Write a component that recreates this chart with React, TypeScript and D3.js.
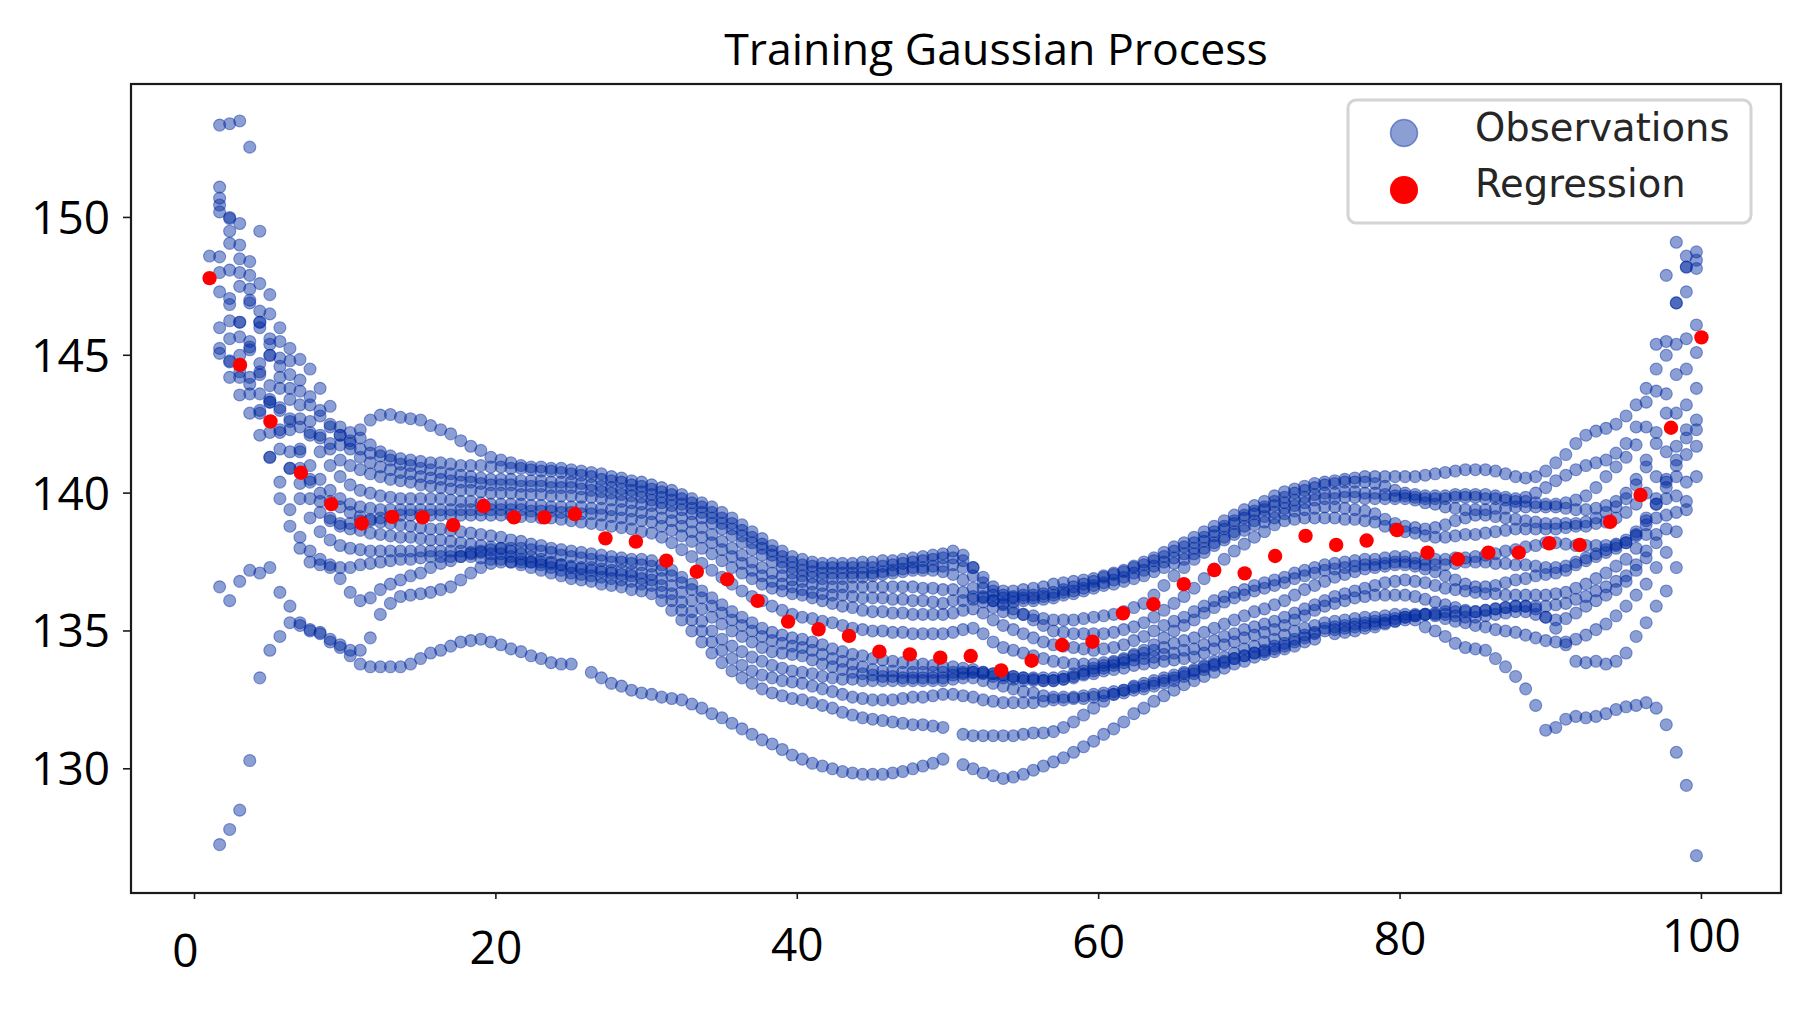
import React from 'react';
import * as d3 from 'd3';

// observation tracks share one x grid: starts at 1, step 2/3
const obsStart = 1;
const obsStep = 2 / 3;

const track01 = [
  null, 145.25, 144.8, 144.4, 143.95, 143.6, 143.3, 143.0, 142.7, 142.4, 142.2, 142.0, 141.8, 141.75, 141.9,
  142.3, 142.65, 142.83, 142.85, 142.75, 142.7, 142.65, 142.45, 142.3, 142.15, 141.9, 141.7, 141.55, 141.3, 141.2,
  141.1, 141.0, 140.95, 140.95, 140.9, 140.9, 140.85, 140.8, 140.75, 140.7, 140.6, 140.55, 140.45, 140.4, 140.3,
  140.2, 140.1, 139.95, 139.8, 139.65, 139.5, 139.3, 139.1, 138.85, 138.6, 138.35, 138.1, 137.9, 137.7, 137.6,
  137.5, 137.45, 137.45, 137.45, 137.45, 137.5, 137.5, 137.55, 137.55, 137.6, 137.65, 137.7, 137.75, 137.8, 137.9,
  137.75, 137.3, 136.95, 136.6, 136.45, 136.45, 136.5, 136.55, 136.6, 136.7, 136.75, 136.8, 136.85, 136.9, 137.0,
  137.1, 137.2, 137.35, 137.5, 137.65, 137.85, 138.05, 138.2, 138.4, 138.6, 138.8, 139.0, 139.2, 139.4, 139.55,
  139.7, 139.9, 140.05, 140.15, 140.25, 140.35, 140.4, 140.45, 140.5, 140.55, 140.6, 140.6, 140.6, 140.6, 140.6,
  140.6, 140.65, 140.7, 140.75, 140.8, 140.85, 140.85, 140.85, 140.8, 140.7, 140.6, 140.55, 140.6, 140.8, 141.1,
  141.4, 141.8, 142.1, 142.25, 142.35, 142.5, 142.8, 143.2, 143.8, 144.5, 145.5, 146.9, 148.2, null,
];
const track02 = [
  null, 153.35, 153.4, 153.5, 152.55, 149.5, 147.2, 146.0, 145.25, 144.85, 144.5, 143.8, 143.15, 142.4, 142.2,
  142.0, 141.75, 141.5, 141.35, 141.25, 141.2, 141.15, 141.1, 141.1, 141.05, 141.0, 141.0, 141.0, 140.95, 140.95,
  140.9, 140.9, 140.85, 140.8, 140.8, 140.75, 140.7, 140.65, 140.6, 140.5, 140.45, 140.4, 140.3, 140.25, 140.15,
  140.05, 139.95, 139.8, 139.65, 139.5, 139.3, 139.1, 138.9, 138.65, 138.4, 138.15, 137.9, 137.7, 137.5, 137.4,
  137.35, 137.3, 137.3, 137.3, 137.3, 137.3, 137.3, 137.35, 137.4, 137.45, 137.5, 137.55, 137.6, 137.65, 137.65,
  137.55, 137.3, 136.75, 136.45, 136.3, 136.25, 136.3, 136.3, 136.35, 136.4, 136.5, 136.6, 136.7, 136.8, 136.95,
  137.05, 137.15, 137.3, 137.4, 137.55, 137.7, 137.9, 138.05, 138.2, 138.4, 138.6, 138.8, 139.0, 139.2, 139.35,
  139.5, 139.7, 139.85, 140.0, 140.1, 140.2, 140.3, 140.35, 140.4, 140.4, 140.4, 140.35, 140.25, 140.1, 140.0,
  139.95, 139.9, 139.9, 139.9, 139.95, 139.95, 139.95, 139.95, 139.9, 139.85, 139.8, 139.85, 140.0, 140.2, 140.45,
  140.65, 140.85, 141.0, 141.1, 141.2, 141.45, 141.8, 142.4, 143.3, 145.4, 147.9, 149.1, 148.6, 148.45,
];
const track03 = [
  null, 151.1, 150.0, 149.0, 147.9, 146.6, 145.6, 144.9, 144.3, 143.7, 143.2, 142.8, 142.4, 142.1, 141.8,
  141.6, 141.45, 141.35, 141.2, 141.05, 141.0, 140.9, 140.85, 140.75, 140.7, 140.65, 140.6, 140.55, 140.5, 140.5,
  140.5, 140.45, 140.45, 140.45, 140.4, 140.4, 140.4, 140.35, 140.3, 140.25, 140.2, 140.15, 140.1, 140.05, 139.95,
  139.85, 139.75, 139.6, 139.45, 139.3, 139.1, 138.9, 138.7, 138.45, 138.2, 138.0, 137.75, 137.5, 137.3, 137.2,
  137.15, 137.1, 137.1, 137.1, 137.1, 137.1, 137.1, 137.15, 137.2, 137.25, 137.3, 137.3, 137.35, 137.35, 137.4,
  137.3, 137.0, 136.55, 136.3, 136.2, 136.2, 136.2, 136.2, 136.25, 136.3, 136.4, 136.45, 136.55, 136.65, 136.75,
  136.85, 136.95, 137.1, 137.2, 137.35, 137.5, 137.65, 137.8, 138.0, 138.25, 138.45, 138.7, 138.9, 139.1, 139.25,
  139.4, 139.55, 139.65, 139.75, 139.85, 139.95, 140.0, 140.0, 140.05, 140.05, 140.0, 140.0, 139.95, 139.9, 139.9,
  139.85, 139.8, 139.8, 139.8, 139.85, 139.85, 139.85, 139.8, 139.8, 139.75, 139.7, 139.7, 139.65, 139.6, 139.6,
  139.65, 139.75, 139.9, 140.2, 140.6, 140.95, 141.3, 141.75, 142.4, 143.7, 145.0, 146.9, 148.2, 148.75,
];
const track04 = [
  null, 150.45, 149.96, 149.78, 148.4, 147.6, 146.5, 145.5, 144.8, 144.1, 143.5, 143.0, 142.5, 142.1, 141.6,
  141.3, 141.1, 140.95, 140.85, 140.75, 140.7, 140.6, 140.55, 140.5, 140.45, 140.4, 140.4, 140.35, 140.3, 140.3,
  140.3, 140.25, 140.25, 140.25, 140.2, 140.2, 140.2, 140.15, 140.1, 140.05, 140.0, 139.95, 139.9, 139.85, 139.75,
  139.65, 139.55, 139.4, 139.25, 139.1, 138.9, 138.7, 138.45, 138.2, 137.95, 137.75, 137.5, 137.3, 137.1, 137.0,
  136.95, 136.9, 136.9, 136.9, 136.95, 136.95, 137.0, 137.05, 137.1, 137.15, 137.2, 137.2, 137.2, 137.15, 137.05,
  136.85, 136.55, 136.25, 136.1, 136.0, 136.05, 136.1, 136.1, 136.15, 136.2, 136.3, 136.35, 136.45, 136.55, 136.65,
  136.7, 136.8, 136.9, 137.0, 137.15, 137.3, 137.45, 137.6, 137.8, 138.0, 138.2, 138.4, 138.6, 138.8, 139.0,
  139.15, 139.3, 139.45, 139.55, 139.65, 139.75, 139.8, 139.8, 139.85, 139.85, 139.8, 139.8, 139.8, 139.8, 139.8,
  139.75, 139.65, 139.6, 139.5, 139.45, 139.4, 139.4, 139.4, 139.45, 139.45, 139.5, 139.5, 139.5, 139.5, 139.5,
  139.45, 139.4, 139.4, 139.45, 139.55, 139.7, 140.0, 140.5, 141.2, 142.2, 143.6, 145.4, 147.3, 148.15,
];
const track05 = [
  148.6, 148.57, 148.09, 147.5, 146.9, 146.2, 145.4, 144.6, 143.8, 143.2, 142.6, 142.1, 141.6, 141.2, 141.0,
  140.85, 140.7, 140.6, 140.5, 140.45, 140.4, 140.3, 140.25, 140.2, 140.15, 140.1, 140.1, 140.05, 140.0, 140.0,
  140.0, 139.95, 139.95, 139.95, 139.9, 139.9, 139.9, 139.85, 139.85, 139.8, 139.75, 139.7, 139.65, 139.6, 139.55,
  139.45, 139.3, 139.1, 138.95, 138.75, 138.5, 138.25, 138.0, 137.75, 137.5, 137.3, 137.1, 137.0, 136.85, 136.8,
  136.7, 136.65, 136.6, 136.6, 136.6, 136.6, 136.6, 136.6, 136.6, 136.6, 136.6, 136.55, 136.55, 136.5, 136.5,
  136.4, 136.25, 136.05, 135.85, 135.7, 135.65, 135.6, 135.55, 135.45, 135.4, 135.4, 135.4, 135.45, 135.5, 135.55,
  135.6, 135.7, 135.85, 136.0, 136.3, 136.65, 137.0, 137.3, 137.6, 137.85, 138.1, 138.3, 138.5, 138.65, 138.85,
  138.95, 139.1, 139.25, 139.35, 139.4, 139.45, 139.5, 139.5, 139.45, 139.4, 139.35, 139.25, 139.05, 138.9, 138.8,
  138.75, 138.7, 138.75, 138.85, 139.0, 139.1, 139.2, 139.2, 139.15, 139.1, 139.05, 139.0, 138.95, 138.9, 138.9,
  138.9, 138.9, 138.95, 139.1, 139.3, 139.5, 139.8, 140.3, 140.95, 141.8, 142.9, 144.3, 145.6, 146.1,
];
const track06 = [
  null, 150.7, 149.06, 148.0, 147.0, 146.0, 145.0, 144.2, 143.4, 142.7, 142.1, 141.5, 141.0, 140.6, 140.3,
  140.1, 140.0, 139.9, 139.85, 139.8, 139.8, 139.8, 139.8, 139.8, 139.75, 139.7, 139.7, 139.65, 139.6, 139.6,
  139.6, 139.6, 139.55, 139.55, 139.5, 139.5, 139.5, 139.5, 139.45, 139.45, 139.4, 139.4, 139.35, 139.3, 139.25,
  139.1, 139.0, 138.8, 138.6, 138.4, 138.2, 137.95, 137.7, 137.45, 137.2, 137.0, 136.8, 136.7, 136.6, 136.5,
  136.4, 136.35, 136.3, 136.3, 136.25, 136.2, 136.2, 136.2, 136.15, 136.15, 136.1, 136.1, 136.05, 136.0, 136.1,
  136.1, 136.15, 136.2, 136.1, 135.95, 135.8, 135.6, 135.4, 135.2, 135.0, 134.95, 134.9, 134.9, 134.9, 134.9,
  134.95, 135.05, 135.15, 135.3, 135.5, 135.75, 136.0, 136.25, 136.55, 136.9, 137.25, 137.6, 137.9, 138.15, 138.4,
  138.6, 138.85, 139.0, 139.05, 139.1, 139.1, 139.1, 139.1, 139.05, 139.05, 139.0, 138.95, 138.8, 138.7, 138.6,
  138.55, 138.45, 138.4, 138.4, 138.45, 138.5, 138.5, 138.55, 138.6, 138.65, 138.7, 138.7, 138.7, 138.7, 138.7,
  138.75, 138.8, 138.8, 138.9, 138.95, 139.1, 139.3, 139.6, 140.0, 140.6, 141.5, 142.9, 144.5, 145.1,
];
const track07 = [
  null, 147.3, 146.84, 146.2, 145.5, 144.7, 143.9, 143.1, 142.3, 141.6, 141.0, 140.5, 140.1, 139.8, 139.6,
  139.5, 139.45, 139.4, 139.4, 139.4, 139.4, 139.4, 139.4, 139.4, 139.4, 139.4, 139.4, 139.4, 139.4, 139.4,
  139.4, 139.4, 139.35, 139.35, 139.35, 139.3, 139.3, 139.25, 139.25, 139.2, 139.15, 139.1, 139.05, 139.0, 138.95,
  138.8, 138.65, 138.45, 138.25, 138.0, 137.8, 137.55, 137.3, 137.1, 136.9, 136.7, 136.55, 136.45, 136.35, 136.3,
  136.2, 136.1, 136.0, 135.9, 135.85, 135.75, 135.7, 135.7, 135.65, 135.65, 135.6, 135.6, 135.6, 135.6, 135.65,
  135.75, 135.8, 135.65, 135.4, 135.2, 135.05, 134.9, 134.75, 134.6, 134.5, 134.45, 134.4, 134.35, 134.3, 134.35,
  134.4, 134.5, 134.65, 134.8, 135.0, 135.2, 135.35, 135.5, 135.7, 135.9, 136.1, 136.25, 136.4, 136.5, 136.65,
  136.75, 136.85, 136.95, 137.1, 137.2, 137.3, 137.4, 137.45, 137.5, 137.55, 137.6, 137.6, 137.65, 137.7, 137.7,
  137.65, 137.6, 137.6, 137.6, 137.65, 137.65, 137.7, 137.75, 137.8, 137.9, 137.95, 138.05, 138.1, 138.2, 138.2,
  138.15, 138.1, 138.1, 138.1, 138.1, 138.15, 138.2, 138.45, 138.85, 139.6, 140.5, 141.7, 143.2, 143.8,
];
const track08 = [
  null, 145.07, 144.76, 144.2, 143.6, 142.9, 142.2, 141.6, 140.9, 140.35, 139.8, 139.3, 139.0, 138.9, 138.9,
  139.0, 139.05, 139.1, 139.15, 139.2, 139.2, 139.2, 139.2, 139.2, 139.2, 139.2, 139.2, 139.2, 139.2, 139.2,
  139.2, 139.15, 139.15, 139.1, 139.1, 139.05, 139.0, 138.95, 138.9, 138.85, 138.8, 138.75, 138.7, 138.6, 138.55,
  138.4, 138.2, 137.95, 137.7, 137.45, 137.2, 136.95, 136.7, 136.45, 136.25, 136.1, 135.9, 135.75, 135.6, 135.5,
  135.45, 135.35, 135.3, 135.2, 135.1, 135.05, 135.0, 135.0, 134.95, 134.95, 134.9, 134.9, 134.9, 134.9, 134.95,
  135.05, 135.1, 134.9, 134.6, 134.4, 134.3, 134.2, 134.1, 134.0, 133.9, 133.85, 133.8, 133.8, 133.8, 133.85,
  133.9, 134.0, 134.15, 134.3, 134.5, 134.75, 135.0, 135.2, 135.4, 135.65, 135.85, 136.05, 136.2, 136.3, 136.45,
  136.55, 136.65, 136.75, 136.9, 137.0, 137.1, 137.2, 137.25, 137.3, 137.35, 137.4, 137.4, 137.45, 137.5, 137.5,
  137.45, 137.4, 137.4, 137.4, 137.45, 137.5, 137.5, 137.5, 137.45, 137.45, 137.4, 137.4, 137.35, 137.3, 137.3,
  137.35, 137.5, 137.65, 137.8, 137.95, 138.1, 138.3, 138.6, 139.1, 139.8, 140.4, 141.2, 142.3, 142.65,
];
const track09 = [
  null, 148.0, 147.06, 146.2, 145.3, 144.3, 143.3, 142.3, 141.5, 140.9, 140.4, 140.0, 139.7, 139.5, 139.3,
  139.15, 139.0, 138.95, 138.9, 138.85, 138.8, 138.75, 138.7, 138.7, 138.65, 138.6, 138.55, 138.5, 138.45, 138.4,
  138.3, 138.25, 138.15, 138.1, 138.0, 137.95, 137.9, 137.85, 137.8, 137.75, 137.7, 137.65, 137.6, 137.6, 137.55,
  137.4, 137.2, 136.95, 136.7, 136.45, 136.2, 135.95, 135.7, 135.5, 135.3, 135.1, 134.95, 134.85, 134.75, 134.7,
  134.6, 134.5, 134.35, 134.25, 134.15, 134.1, 134.0, 133.95, 133.9, 133.85, 133.8, 133.8, 133.75, 133.7, 133.7,
  133.65, 133.6, 133.5, 133.45, 133.4, 133.35, 133.3, 133.3, 133.3, 133.3, 133.35, 133.45, 133.55, 133.65, 133.75,
  133.85, 133.95, 134.1, 134.2, 134.3, 134.4, 134.55, 134.65, 134.75, 134.95, 135.1, 135.25, 135.4, 135.55, 135.7,
  135.8, 135.95, 136.1, 136.3, 136.5, 136.65, 136.8, 136.95, 137.05, 137.15, 137.25, 137.3, 137.35, 137.4, 137.4,
  137.35, 137.25, 137.15, 137.0, 136.85, 136.7, 136.6, 136.6, 136.65, 136.75, 136.85, 136.9, 137.0, 137.05, 137.1,
  137.2, 137.4, 137.55, 137.7, 137.85, 138.0, 138.2, 138.5, 139.0, 139.6, 140.2, 141.0, 142.0, 142.3,
];
const track10 = [
  null, 146.0, 145.6, 145.0, 144.2, 143.0, 141.3, 139.8, 138.8, 138.0, 137.5, 137.4, 137.3, 136.9, 136.4,
  136.1, 136.2, 136.5, 136.7, 136.85, 137.0, 137.1, 137.3, 137.45, 137.55, 137.7, 137.8, 137.9, 137.95, 138.0,
  138.0, 138.0, 137.95, 137.9, 137.85, 137.75, 137.7, 137.65, 137.6, 137.55, 137.5, 137.5, 137.45, 137.4, 137.35,
  137.2, 137.0, 136.75, 136.5, 136.2, 135.9, 135.65, 135.4, 135.2, 135.0, 134.8, 134.65, 134.55, 134.45, 134.4,
  134.3, 134.15, 134.0, 133.9, 133.8, 133.7, 133.6, 133.55, 133.55, 133.5, 133.5, 133.5, 133.5, 133.5, 133.5,
  133.5, 133.5, 133.5, 133.45, 133.4, 133.35, 133.3, 133.25, 133.2, 133.2, 133.25, 133.35, 133.45, 133.55, 133.65,
  133.75, 133.85, 133.95, 134.0, 134.05, 134.15, 134.2, 134.3, 134.35, 134.5, 134.65, 134.8, 134.9, 135.05, 135.15,
  135.25, 135.35, 135.5, 135.65, 135.8, 135.95, 136.1, 136.25, 136.35, 136.45, 136.55, 136.65, 136.75, 136.8, 136.85,
  136.8, 136.75, 136.65, 136.55, 136.5, 136.45, 136.4, 136.35, 136.35, 136.3, 136.3, 136.3, 136.3, 136.3, 136.35,
  136.4, 136.55, 136.7, 136.9, 137.1, 137.35, 137.6, 138.0, 138.5, 139.1, 139.8, 140.6, 141.4, 141.7,
];
const track11 = [
  null, 127.25, 127.8, 128.5, 130.3, 133.3, 134.3, 134.8, 135.3, 135.2, 135.05, 134.95, 134.7, 134.5, 134.3,
  134.3, 134.75, 135.6, 136.0, 136.25, 136.3, 136.35, 136.4, 136.5, 136.6, 136.85, 137.1, 137.3, 137.45, 137.5,
  137.5, 137.5, 137.5, 137.5, 137.45, 137.4, 137.35, 137.3, 137.3, 137.25, 137.2, 137.2, 137.15, 137.1, 137.05,
  136.9, 136.65, 136.4, 136.1, 135.8, 135.5, 135.25, 135.0, 134.8, 134.6, 134.4, 134.25, 134.2, 134.15, 134.1,
  133.95, 133.8, 133.7, 133.6, 133.5, 133.45, 133.4, 133.35, 133.35, 133.3, 133.3, 133.3, 133.3, 133.3, 133.4,
  133.45, 133.5, 133.45, 133.35, 133.3, 133.25, 133.2, 133.2, 133.2, 133.2, 133.25, 133.3, 133.4, 133.45, 133.55,
  133.6, 133.65, 133.75, 133.8, 133.85, 133.9, 133.95, 134.0, 134.05, 134.2, 134.35, 134.5, 134.6, 134.75, 134.85,
  134.95, 135.05, 135.2, 135.4, 135.55, 135.75, 135.9, 136.0, 136.1, 136.2, 136.25, 136.3, 136.3, 136.3, 136.3,
  136.25, 136.15, 136.05, 135.95, 135.85, 135.75, 135.7, 135.75, 135.8, 135.85, 135.9, 135.9, 135.9, 135.9, 135.95,
  136.0, 136.15, 136.25, 136.45, 136.6, 136.8, 137.0, 137.4, 137.9, 138.5, 139.2, 139.9, 140.4, 140.6,
];
const track12 = [
  null, 150.2, 149.5, 148.5, 147.4, 146.2, 145.0, 143.8, 142.6, 141.5, 140.5, 139.7, 139.1, 138.8, 138.7,
  138.65, 138.55, 138.5, 138.45, 138.4, 138.4, 138.35, 138.3, 138.3, 138.25, 138.2, 138.15, 138.1, 138.05, 138.0,
  137.9, 137.8, 137.7, 137.6, 137.5, 137.4, 137.3, 137.25, 137.2, 137.15, 137.1, 137.05, 137.0, 136.9, 136.85,
  136.65, 136.35, 136.05, 135.7, 135.35, 135.0, 134.7, 134.45, 134.25, 134.05, 133.9, 133.75, 133.65, 133.55, 133.5,
  133.45, 133.35, 133.3, 133.25, 133.25, 133.2, 133.2, 133.2, 133.2, 133.2, 133.2, 133.2, 133.2, 133.2, 133.25,
  133.3, 133.3, 133.2, 133.1, 133.0, 132.9, 132.8, 132.75, 132.65, 132.6, 132.6, 132.6, 132.65, 132.7, 132.75,
  132.8, 132.85, 132.95, 133.0, 133.1, 133.2, 133.3, 133.45, 133.55, 133.75, 133.9, 134.05, 134.2, 134.35, 134.45,
  134.6, 134.7, 134.85, 135.0, 135.1, 135.2, 135.3, 135.35, 135.4, 135.45, 135.5, 135.5, 135.55, 135.6, 135.6,
  135.6, 135.6, 135.6, 135.6, 135.55, 135.5, 135.5, 135.55, 135.6, 135.65, 135.7, 135.7, 135.6, 135.5, 135.4,
  135.45, 135.65, 135.9, 136.1, 136.3, 136.5, 136.8, 137.2, 137.65, 138.2, 138.7, 139.3, 139.7, null,
];
const track13 = [
  null, null, 146.25, 145.67, 145.2, 144.4, 143.4, 142.2, 140.9, 139.8, 139.1, 138.6, 138.3, 138.1, 138.0,
  137.95, 137.9, 137.9, 137.9, 137.9, 137.9, 137.9, 137.9, 137.9, 137.9, 137.9, 137.85, 137.85, 137.8, 137.8,
  137.7, 137.6, 137.5, 137.4, 137.3, 137.2, 137.1, 137.05, 137.0, 136.95, 136.9, 136.85, 136.8, 136.7, 136.65,
  136.4, 136.1, 135.75, 135.4, 135.0, 134.6, 134.3, 134.0, 133.75, 133.55, 133.4, 133.3, 133.2, 133.15, 133.1,
  133.0, 132.9, 132.8, 132.7, 132.6, 132.55, 132.5, 132.5, 132.5, 132.55, 132.6, 132.6, 132.65, 132.7, 132.7,
  132.65, 132.6, 132.5, 132.45, 132.4, 132.4, 132.4, 132.4, 132.45, 132.5, 132.5, 132.55, 132.55, 132.6, 132.65,
  132.7, 132.75, 132.85, 132.9, 133.0, 133.1, 133.2, 133.35, 133.45, 133.6, 133.75, 133.85, 134.0, 134.1, 134.2,
  134.3, 134.45, 134.55, 134.7, 134.85, 134.95, 135.1, 135.15, 135.2, 135.25, 135.3, 135.35, 135.4, 135.45, 135.5,
  135.55, 135.6, 135.55, 135.45, 135.35, 135.3, 135.2, 135.15, 135.05, 135.0, 134.95, 134.85, 134.75, 134.65, 134.6,
  134.6, 134.7, 134.85, 135.05, 135.25, 135.55, 135.9, 136.3, 136.7, 137.3, 137.85, 138.6, 139.4, null,
];
const track14 = [
  null, null, 144.2, 143.56, 142.9, 142.1, 141.3, 140.4, 139.4, 138.4, 137.9, 137.6, 137.4, 137.3, 137.3,
  137.4, 137.45, 137.5, 137.55, 137.6, 137.6, 137.65, 137.7, 137.7, 137.7, 137.7, 137.7, 137.65, 137.6, 137.6,
  137.5, 137.4, 137.3, 137.2, 137.1, 137.0, 136.9, 136.85, 136.8, 136.7, 136.65, 136.6, 136.5, 136.45, 136.35,
  136.1, 135.75, 135.4, 135.0, 134.6, 134.2, 133.85, 133.55, 133.3, 133.1, 132.9, 132.75, 132.65, 132.55, 132.5,
  132.4, 132.3, 132.2, 132.05, 131.95, 131.85, 131.8, 131.75, 131.7, 131.65, 131.6, 131.6, 131.55, 131.5, null,
  131.25, 131.2, 131.2, 131.2, 131.2, 131.2, 131.25, 131.3, 131.3, 131.35, 131.5, 131.7, 131.95, 132.2, 132.45,
  132.7, 132.85, 133.0, 133.1, 133.2, 133.3, 133.4, 133.5, 133.6, 133.7, 133.8, 133.9, 134.0, 134.1, 134.2,
  134.25, 134.35, 134.45, 134.6, 134.75, 134.9, 135.0, 135.05, 135.1, 135.15, 135.2, 135.25, 135.3, 135.35, 135.4,
  135.55, 135.6, 135.65, 135.7, 135.7, 135.7, 135.7, 135.75, 135.8, 135.85, 135.9, 135.9, 135.8, 135.5, 135.1,
  134.5, 133.9, 133.85, 133.9, 133.8, 133.9, 134.2, 134.8, 135.3, 135.9, 136.45, 137.3, null, null,
];
const track15 = [
  null, 136.6, 136.1, 136.8, 137.2, 137.1, 137.3, 136.4, 135.9, 135.3, 135.0, 134.9, 134.6, 134.4, 134.1,
  133.8, 133.7, 133.7, 133.7, 133.7, 133.8, 134.0, 134.2, 134.3, 134.45, 134.6, 134.65, 134.7, 134.6, 134.5,
  134.35, 134.25, 134.1, 134.0, 133.85, 133.8, 133.8, null, 133.5, 133.3, 133.1, 133.0, 132.85, 132.75, 132.7,
  132.6, 132.55, 132.5, 132.35, 132.2, 132.0, 131.85, 131.65, 131.45, 131.25, 131.05, 130.9, 130.7, 130.5, 130.35,
  130.2, 130.1, 130.0, 129.9, 129.85, 129.8, 129.8, 129.8, 129.85, 129.9, 130.0, 130.1, 130.2, 130.35, null,
  130.15, 130.0, 129.85, 129.75, 129.65, 129.7, 129.8, 129.95, 130.1, 130.25, 130.4, 130.6, 130.8, 131.0, 131.25,
  131.45, 131.7, 132.0, 132.2, 132.45, 132.65, 132.85, 133.05, 133.2, 133.35, 133.5, 133.65, 133.8, 133.9, 134.05,
  134.15, 134.25, 134.35, 134.45, 134.6, 134.7, null, 134.9, 134.95, 135.0, 135.1, 135.15, 135.25, 135.35, 135.5,
  135.4, 135.15, 135.0, 134.8, 134.55, 134.4, 134.35, 134.3, 134.0, 133.7, 133.35, 132.9, 132.3, 131.4, 131.5,
  131.8, 131.9, 131.85, 131.9, 132.0, 132.15, 132.25, 132.3, 132.4, 132.2, 131.6, 130.6, 129.4, 126.85,
];

const tracks = [
  track01, track02, track03, track04, track05, track06, track07, track08,
  track09, track10, track11, track12, track13, track14, track15,
];

// regression estimate
const regX = [
  1, 3.02, 5.04, 7.06, 9.08, 11.1, 13.12, 15.14, 17.16, 19.18,
  21.2, 23.22, 25.24, 27.27, 29.29, 31.31, 33.33, 35.35, 37.37, 39.39,
  41.41, 43.43, 45.45, 47.47, 49.49, 51.51, 53.53, 55.55, 57.57, 59.59,
  61.61, 63.63, 65.65, 67.67, 69.69, 71.71, 73.73, 75.76, 77.78, 79.8,
  81.82, 83.84, 85.86, 87.88, 89.9, 91.92, 93.94, 95.96, 97.98, 100,
];
const regY = [
  147.8, 144.65, 142.6, 140.74, 139.6, 138.9, 139.14, 139.12, 138.84, 139.53,
  139.12, 139.12, 139.24, 138.36, 138.24, 137.55, 137.15, 136.87, 136.09, 135.34,
  135.06, 134.82, 134.25, 134.15, 134.03, 134.09, 133.57, 133.92, 134.49, 134.61,
  135.64, 135.97, 136.7, 137.21, 137.09, 137.72, 138.45, 138.12, 138.28, 138.66,
  137.84, 137.6, 137.84, 137.84, 138.18, 138.12, 138.96, 139.93, 142.37, 145.65,
];

const xTicks = [0, 20, 40, 60, 80, 100];
const yTicks = [130, 135, 140, 145, 150];
const legendLabels = ['Observations', 'Regression'];

const obsColor = 'rgb(0, 42, 160)';
const regColor = '#ff0000';

const frame = { left: 131, right: 1781, top: 84, bottom: 893 };

export default function App() {
  const x = d3.scaleLinear().domain([-4.214, 105.28]).range([frame.left, frame.right]);
  const y = d3.scaleLinear().domain([125.495, 154.84]).range([frame.bottom, frame.top]);

  const obsPoints: { cx: number; cy: number }[] = [];
  tracks.forEach(t => {
    t.forEach((v, i) => {
      if (v == null) return;
      obsPoints.push({ cx: x(obsStart + i * obsStep), cy: y(v) });
    });
  });

  const font = '"Open Sans", sans-serif';

  return (
    <svg
      width={1794}
      height={1010}
      style={{ position: 'absolute', left: 0, top: 0, background: '#fff' }}
    >
      <rect x={0} y={0} width={1794} height={1010} fill="#fff" />

      <text x={996} y={65} textAnchor="middle" fontFamily={font} fontSize={44.6} fill="#000">
        Training Gaussian Process
      </text>

      <g>
        {obsPoints.map((p, i) => (
          <circle
            key={i}
            cx={p.cx}
            cy={p.cy}
            r={6}
            fill={obsColor}
            fillOpacity={0.45}
            stroke={obsColor}
            strokeOpacity={0.45}
            strokeWidth={1.1}
          />
        ))}
      </g>

      <g>
        {regX.map((v, i) => (
          <circle key={i} cx={x(v)} cy={y(regY[i])} r={7.2} fill={regColor} />
        ))}
      </g>

      <rect
        x={frame.left}
        y={frame.top}
        width={frame.right - frame.left}
        height={frame.bottom - frame.top}
        fill="none"
        stroke="#1a1a1a"
        strokeWidth={2.2}
      />

      {yTicks.map(t => (
        <g key={t}>
          <line x1={frame.left - 8} x2={frame.left} y1={y(t)} y2={y(t)} stroke="#1a1a1a" strokeWidth={1.6} />
          <text x={110} y={y(t) + 16.5} textAnchor="end" fontFamily={font} fontSize={46} fill="#000">
            {t}
          </text>
        </g>
      ))}

      {xTicks.map(t => (
        <g key={t}>
          <line x1={x(t)} x2={x(t)} y1={frame.bottom} y2={frame.bottom + 6} stroke="#1a1a1a" strokeWidth={1.6} />
          <text
            x={x(t) - (t === 0 ? 9 : 0)}
            y={950 - 0.15 * t + 16.5}
            textAnchor="middle"
            fontFamily={font}
            fontSize={46}
            fill="#000"
          >
            {t}
          </text>
        </g>
      ))}

      <g>
        <rect x={1348} y={100} width={403} height={123} rx={8} fill="#fff" fillOpacity={0.85} stroke="#d4d4d4" strokeWidth={3} />
        <circle cx={1404} cy={133} r={13.5} fill={obsColor} fillOpacity={0.45} stroke={obsColor} strokeOpacity={0.45} strokeWidth={1.5} />
        <circle cx={1404} cy={190} r={14} fill={regColor} />
        <text x={1475} y={141} fontFamily='"DejaVu Sans", sans-serif' fontSize={38.5} fill="#262626">
          {legendLabels[0]}
        </text>
        <text x={1475} y={197} fontFamily='"DejaVu Sans", sans-serif' fontSize={38.5} fill="#262626">
          {legendLabels[1]}
        </text>
      </g>
    </svg>
  );
}
